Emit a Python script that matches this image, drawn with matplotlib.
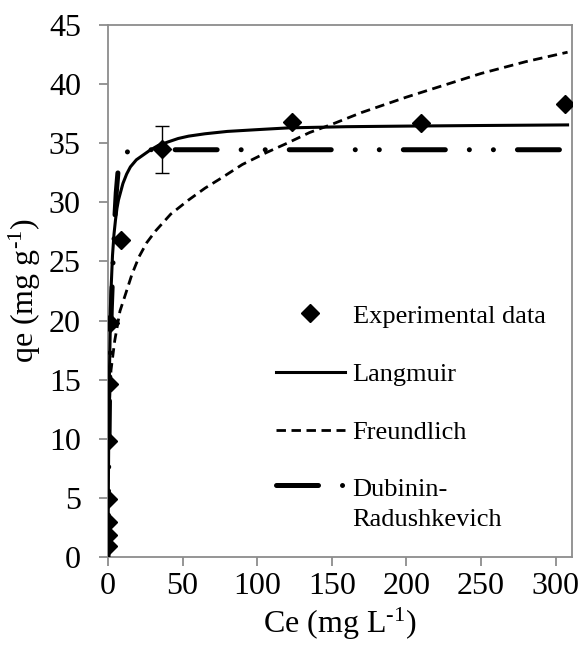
import numpy as np
import matplotlib
matplotlib.use("Agg")
import matplotlib.pyplot as plt
from matplotlib.legend_handler import HandlerLine2D

# experimental isotherm points
ce_exp = [0.05, 0.1, 0.15, 0.2, 0.3, 0.6, 1.0, 8.5, 36.5, 123.5, 210, 306.5]
qe_exp = [0.9, 1.9, 3.0, 4.9, 9.8, 14.6, 19.8, 26.8, 34.5, 36.8, 36.7, 38.3]
err_exp = [0, 0, 0, 0, 0, 0, 0, 0, 2.0, 0, 0, 0]

# fitted curves
ce_lang = [0, 0.3, 0.6, 1, 2, 3, 4, 5, 6, 7, 8.5, 10, 12.5, 15, 19, 23.5, 28, 33.5, 40, 47, 54,
           65, 80, 100, 121, 160, 200, 250, 308]
qe_lang = [0, 7, 12, 16, 22.5, 25.5, 27.3, 28.5, 29.5, 30.2, 30.9, 31.6, 32.4, 33.0, 33.6, 34.0,
           34.4, 34.8, 35.1, 35.4, 35.6, 35.8, 36.0, 36.15, 36.3, 36.4, 36.45, 36.5, 36.55]

ce_freu = [0.2, 0.5, 1, 2, 4.5, 8, 11.9, 16, 20.8, 26, 32, 42, 54, 65, 76.5, 90, 106, 120, 135,
           150, 170, 200, 225, 250, 280, 308]
qe_freu = [8, 10.5, 13, 15.8, 18.3, 20.8, 22.3, 23.9, 25.4, 26.6, 27.6, 29.0, 30.2, 31.2, 32.1,
           33.2, 34.2, 35.0, 35.9, 36.6, 37.6, 38.9, 39.9, 40.9, 41.9, 42.7]

ce_dr = [0, 0.2, 0.5, 1, 1.5, 2.2, 3.4, 4.5, 5.5, 6.7, 8.5, 11, 14, 20, 308]
qe_dr = [0, 3, 8, 13.5, 17.5, 21, 25, 28.5, 30.8, 32.6, 33.6, 34.1, 34.35, 34.45, 34.45]


class RaisedLine(HandlerLine2D):
    # put the handle level with the first line of a two-line label
    def create_artists(self, legend, orig_handle, xdescent, ydescent, width, height, fontsize, trans):
        return super().create_artists(legend, orig_handle, xdescent, ydescent - 27.5,
                                      width, height, fontsize, trans)


plt.rcParams['font.family'] = ['Liberation Serif', 'DejaVu Serif']
plt.rcParams['mathtext.fontset'] = 'custom'
plt.rcParams['mathtext.rm'] = 'Liberation Serif'
plt.rcParams['mathtext.it'] = 'Liberation Serif:italic'
plt.rcParams['font.size'] = 23

fig = plt.figure(figsize=(5.82, 6.48), dpi=100)
ax = fig.add_axes([0.1856, 0.1404, 0.7973, 0.821])

gray = '#8c8c8c'

ax.plot(ce_lang, qe_lang, color='black', lw=2.2, label='Langmuir', zorder=3)
ax.plot(ce_freu, qe_freu, color='black', lw=2.0, ls=(0, (3.4, 2.0)), label='Freundlich', zorder=3)
dr, = ax.plot(ce_dr, qe_dr, color='black', lw=3.6, label='Dubinin-\nRadushkevich', zorder=3,
              dash_capstyle='round', solid_capstyle='round')
dr.set_dashes([8.4, 4.8, 0.01, 4.8, 0.01, 4.8])
ax.errorbar(ce_exp, qe_exp, yerr=err_exp, fmt='none', ecolor='black',
            elinewidth=1.0, capsize=4.7, capthick=1.0, zorder=4)
ax.plot(ce_exp, qe_exp, 'D', color='black', ms=9.5, label='Experimental data', zorder=5)

ax.set_xlim(0, 311)
ax.set_ylim(0, 45)
ax.set_xticks(range(0, 301, 50))
ax.set_yticks(range(0, 46, 5))
for s in ax.spines.values():
    s.set_color(gray)
    s.set_linewidth(1.3)
ax.tick_params(direction='out', length=6.5, width=1.3, color=gray, labelsize=23)
ax.tick_params(axis='y', pad=13)
ax.tick_params(axis='x', pad=4)

ax.set_xlabel('Ce (mg L$^{\\text{-1}}$)', fontsize=23, labelpad=4)
ax.set_ylabel('qe (mg g$^{\\text{-1}}$)', fontsize=23, labelpad=4)

h, l = ax.get_legend_handles_labels()
order = [3, 0, 1, 2]
leg = ax.legend([h[i] for i in order], [l[i] for i in order], loc='upper left',
                bbox_to_anchor=(0.362, 0.4754), frameon=False, handlelength=2.6,
                handletextpad=0.3, labelspacing=1.32, borderpad=0, borderaxespad=0,
                fontsize=19, numpoints=1, handler_map={dr: RaisedLine()})
leg.get_texts()[3].set_linespacing(1.45)

fig.savefig('out.png', dpi=100)
